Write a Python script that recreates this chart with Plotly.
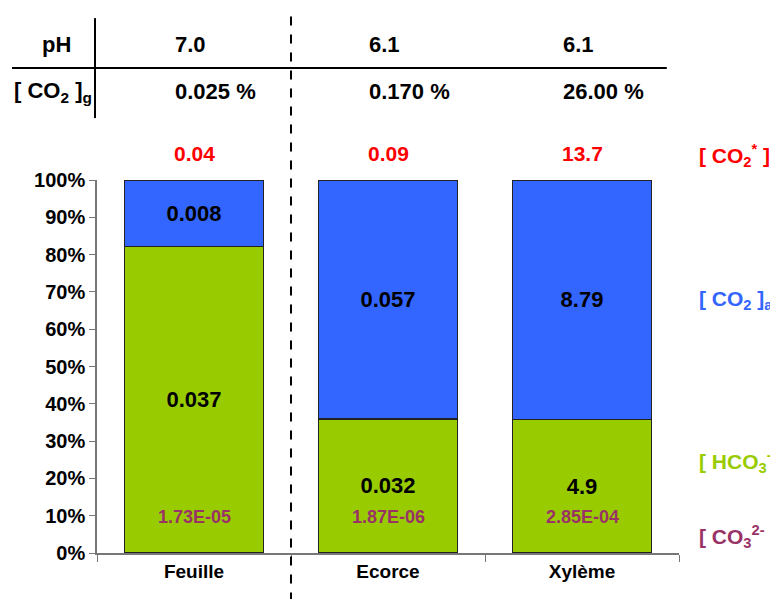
import plotly.graph_objects as go

# data
categories = ['Feuille', 'Ecorce', 'Xylème']
ph = ['7.0', '6.1', '6.1']
co2_gas = ['0.025 %', '0.170 %', '26.00 %']
co2_total = ['0.04', '0.09', '13.7']
co2_aq = [0.008, 0.057, 8.79]
hco3 = [0.037, 0.032, 4.9]
co3 = ['1.73E-05', '1.87E-06', '2.85E-04']
co3_val = [1.73e-05, 1.87e-06, 2.85e-04]

FONT = 'Liberation Sans, Arial, sans-serif'
BLUE = '#3366FF'
GREEN = '#99CC00'
RED = '#FF0000'
PURPLE = '#993366'


def bold(size, color='black'):
    return dict(family=FONT, size=size, color=color, weight='bold')


fig = go.Figure()
fig.add_trace(go.Bar(x=categories, y=co3_val, marker=dict(color=PURPLE),
                     showlegend=False, hoverinfo='skip'))
fig.add_trace(go.Bar(x=categories, y=hco3, text=[str(v) for v in hco3],
                     textposition='inside', insidetextanchor='middle',
                     textfont=bold(22),
                     marker=dict(color=GREEN, line=dict(color='#222222', width=1.5)),
                     showlegend=False))
fig.add_trace(go.Bar(x=categories, y=co2_aq, text=[str(v) for v in co2_aq],
                     textposition='inside', insidetextanchor='middle',
                     textfont=bold(22),
                     marker=dict(color=BLUE, line=dict(color='#222222', width=1.5)),
                     showlegend=False))

ann = []
for i, c in enumerate(categories):
    # CO3 values at bottom of bar
    ann.append(dict(x=c, y=9.6, xref='x', yref='y', text=co3[i], showarrow=False,
                    font=bold(18, PURPLE)))
    # totals above bars
    ann.append(dict(x=c, y=1.072, xref='x', yref='paper', text=co2_total[i], showarrow=False,
                    yanchor='middle', font=bold(21, RED)))
    # table rows
    ann.append(dict(x=c, y=1.362, xref='x', yref='paper', text=ph[i], showarrow=False,
                    xanchor='left', yanchor='middle', xshift=-21, font=bold(22)))
    ann.append(dict(x=c, y=1.236, xref='x', yref='paper', text=co2_gas[i], showarrow=False,
                    xanchor='left', yanchor='middle', xshift=-21, font=bold(22)))

ann.append(dict(x=-0.070, y=1.362, xref='paper', yref='paper', text='pH', showarrow=False,
                xanchor='center', yanchor='middle', font=bold(22)))
ann.append(dict(x=-0.146, y=1.236, xref='paper', yref='paper',
                text='[ CO<sub>2</sub> ]<sub>g</sub>', showarrow=False,
                xanchor='left', yanchor='middle', font=bold(22)))

# species labels on the right
right = [('[ CO<sub>2</sub><sup>*</sup> ]', RED, 1.067),
         ('[ CO<sub>2</sub> ]<sub>aq</sub>', BLUE, 0.678),
         ('[ HCO<sub>3</sub><sup>-</sup> ]', GREEN, 0.244),
         ('[ CO<sub>3</sub><sup>2-</sup> ]', PURPLE, 0.043)]
for txt, col, yy in right:
    ann.append(dict(x=1.031, y=yy, xref='paper', yref='paper', text=txt, showarrow=False,
                    xanchor='left', yanchor='middle', font=bold(21, col)))

shapes = [
    dict(type='line', xref='x', yref='paper', x0=0.5, x1=0.5, y0=-0.13, y1=1.45,
         line=dict(color='black', width=2, dash='dash')),
    dict(type='line', xref='paper', yref='paper', x0=-0.146, x1=0.979, y0=1.300, y1=1.300,
         line=dict(color='black', width=2)),
    dict(type='line', xref='paper', yref='paper', x0=-0.0034, x1=-0.0034, y0=1.166, y1=1.434,
         line=dict(color='black', width=2)),
]

# page body has an 8px margin, so the figure starts at (8, 8)
fig.update_layout(
    barmode='stack', barnorm='percent', bargap=0.284,
    width=778, height=599,
    margin=dict(l=89, r=107, t=172, b=54),
    plot_bgcolor='white', paper_bgcolor='white',
    font=dict(family=FONT, color='black'),
    annotations=ann, shapes=shapes,
    xaxis=dict(showline=True, linecolor='#777777', linewidth=1.5, ticks='outside',
               tickson='boundaries', ticklen=7, tickcolor='#777777',
               tickfont=bold(19), showgrid=False),
    yaxis=dict(range=[0, 100], showline=True, linecolor='#777777', linewidth=1.5,
               ticks='outside', ticklen=6, tickcolor='#777777', dtick=10,
               ticksuffix='%', tickfont=bold(20),
               showgrid=False, zeroline=False),
)

fig.write_html('out.html')
